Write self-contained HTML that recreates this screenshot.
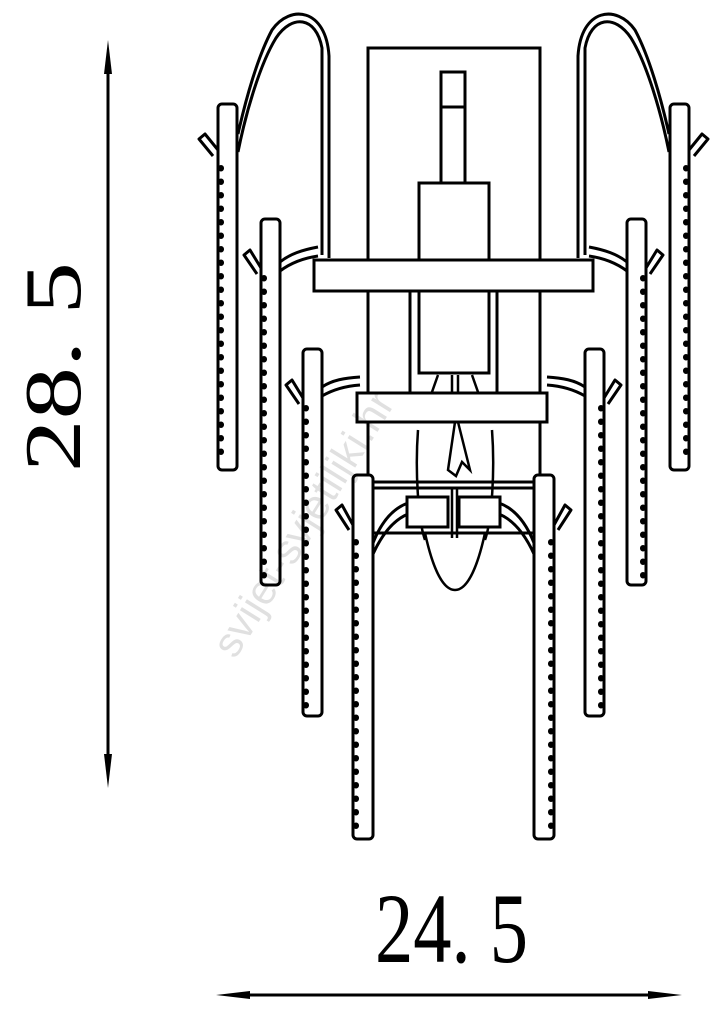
<!DOCTYPE html>
<html><head><meta charset="utf-8"><style>
html,body{margin:0;padding:0;background:#fff;width:724px;height:1024px;overflow:hidden}
svg{display:block}
</style></head><body>
<svg width="724" height="1024" viewBox="0 0 724 1024" xmlns="http://www.w3.org/2000/svg">
<defs>
<g id="half" fill="none" stroke="#000" stroke-width="3" stroke-linejoin="round">
  <path d="M238,152 C246,112 260,64 276,38 C292,14 316,16 322,48 L322,255" />
  <path d="M238,134 C246,98 258,56 272,30 C290,4 326,8 329,56 L329,258" />
  <rect x="218" y="104" width="19" height="366" rx="4" fill="#fff"/>
  <line x1="221" y1="168" x2="221" y2="462" stroke-width="6" stroke-linecap="round" stroke-dasharray="0.5 13"/>
  <path d="M218,150 L205,134 L199,139 L213,156" />
  <path d="M280,262 C290,254 302,250 318,247" />
  <path d="M280,271 C292,262 304,258 318,256" />
  <rect x="261" y="219" width="19" height="366" rx="4" fill="#fff"/>
  <line x1="264" y1="278" x2="264" y2="578" stroke-width="6" stroke-linecap="round" stroke-dasharray="0.5 13"/>
  <path d="M261,268 L250,250 L244,255 L257,274" />
  <path d="M322,387 C332,380 345,378 360,377" />
  <path d="M322,396 C334,389 346,386 360,385" />
  <rect x="303" y="349" width="19" height="367" rx="4" fill="#fff"/>
  <line x1="306" y1="408" x2="306" y2="708" stroke-width="6" stroke-linecap="round" stroke-dasharray="0.5 13"/>
  <path d="M303,398 L292,380 L286,385 L299,404" />
</g>
<g id="front" fill="none" stroke="#000" stroke-width="3" stroke-linejoin="round">
  <path d="M373,543 C382,520 394,508 408,503" />
  <path d="M373,554 C384,530 396,519 408,514" />
  <rect x="353" y="475" width="20" height="364" rx="4" fill="#fff"/>
  <line x1="356" y1="542" x2="356" y2="830" stroke-width="6" stroke-linecap="round" stroke-dasharray="0.5 13"/>
  <path d="M353,525 L342,505 L336,510 L349,530" />
</g>
</defs>

<rect x="368" y="48" width="172" height="440" fill="#fff" stroke="#000" stroke-width="3"/>
<g fill="#fff" stroke="#000" stroke-width="3">
  <rect x="441" y="72" width="24" height="111"/>
  <line x1="441" y1="107" x2="465" y2="107"/>
  <rect x="419" y="183" width="70" height="190"/>
  <line x1="410" y1="291" x2="410" y2="393"/>
  <line x1="497" y1="291" x2="497" y2="393"/>
</g>
<path d="M418,430 C415,470 418,520 425,540" fill="none" stroke="#000" stroke-width="2.5"/>
<path d="M492,430 C495,470 492,520 485,540" fill="none" stroke="#000" stroke-width="2.5"/>

<use href="#half"/>
<use href="#half" transform="translate(907,0) scale(-1,1)"/>

<rect x="314" y="260" width="279" height="31" fill="#fff" stroke="#000" stroke-width="3"/>
<rect x="357" y="393" width="190" height="29" fill="#fff" stroke="#000" stroke-width="3"/>
<path d="M438,375 L432,392 M472,375 L478,392" fill="none" stroke="#000" stroke-width="2.5"/>
<path d="M452,375 L452,393 M458,375 L458,393" fill="none" stroke="#000" stroke-width="2.5"/>
<path d="M455,422 L448,470 L456,476 L462,462 L470,470 L460,430 L458,422" fill="none" stroke="#000" stroke-width="2.5"/>

<line x1="373" y1="482" x2="533" y2="482" stroke="#000" stroke-width="3"/>
<line x1="373" y1="533" x2="533" y2="533" stroke="#000" stroke-width="3"/>
<path d="M425,533 C432,565 442,590 455,590 C468,590 478,565 485,533" fill="none" stroke="#000" stroke-width="2.5"/>
<rect x="407" y="497" width="41" height="30" fill="#fff" stroke="#000" stroke-width="3"/>
<rect x="459" y="497" width="41" height="30" fill="#fff" stroke="#000" stroke-width="3"/>
<path d="M452,488 L452,538 M457,488 L457,538" stroke="#000" stroke-width="2.5"/>
<use href="#front"/>
<use href="#front" transform="translate(907,0) scale(-1,1)"/>

<text x="0" y="0" transform="translate(235,660) rotate(-58)" font-family="Liberation Sans, sans-serif" font-size="42" fill="#000" fill-opacity="0.12">svijet-svjetiljki.hr</text>

<line x1="108" y1="70" x2="108" y2="760" stroke="#000" stroke-width="3"/>
<polygon points="108,40 104,74 112,74" fill="#000"/>
<polygon points="108,788 104,754 112,754" fill="#000"/>
<text x="0" y="0" transform="translate(80,472) rotate(-90)" font-family="Liberation Serif, serif" font-size="80" textLength="210" lengthAdjust="spacingAndGlyphs">28. 5</text>
<line x1="245" y1="995" x2="655" y2="995" stroke="#000" stroke-width="3"/>
<polygon points="216,995 250,991 250,999" fill="#000"/>
<polygon points="682,995 648,991 648,999" fill="#000"/>
<text x="375" y="962" font-family="Liberation Serif, serif" font-size="100" textLength="153" lengthAdjust="spacingAndGlyphs">24. 5</text>
</svg>
</body></html>
